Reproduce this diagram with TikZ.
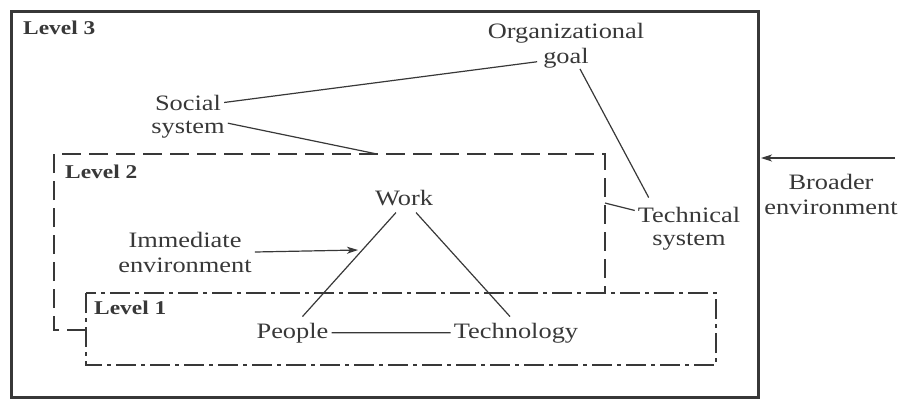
\documentclass[tikz,border=0pt]{standalone}
\usepackage{fontspec}
\setmainfont{Liberation Serif}[FakeStretch=1.2]
\usetikzlibrary{calc,arrows.meta}
\definecolor{inkc}{gray}{0.22}
\begin{document}
\begin{tikzpicture}[x=1pt,y=-1pt,
  txt/.style={inner sep=3pt, text=inkc, font=\fontsize{22}{25}\selectfont},
  lvl/.style={inner sep=0pt, text=inkc, font=\fontsize{19.5}{22}\selectfont\bfseries},
  conn/.style={draw=inkc, line width=1.2pt},
  arr/.style={conn, -{Stealth[length=11pt,width=7pt,inset=3pt]}},
  box3/.style={draw=inkc, line width=3pt},
  box2/.style={draw=inkc, line width=2pt, dash pattern=on 19pt off 8pt},
  box1/.style={draw=inkc, line width=1.5pt, dash pattern=on 20pt off 5pt on 4pt off 5pt}]
\useasboundingbox (0,0) rectangle (901,399);
% boxes
\draw[box3] (11,11) rectangle (758,397);
\draw[box2] (86,330) -- (54,330) -- (54,154) -- (605,154) -- (605,293);
\draw[box1] (86,293) rectangle (716,365);
% labels
\node[lvl, anchor=base west] (l3) at (23,34) {Level 3};
\node[lvl, anchor=base west] (l2) at (65,178) {Level 2};
\node[lvl, anchor=base west] (l1) at (94,314) {Level 1};
% texts
\node[txt, anchor=base] (org) at (566,38) {Organizational};
\node[txt, anchor=base] (goal) at (566,63) {goal};
\node[txt, anchor=base] (social) at (188,110) {Social};
\node[txt, anchor=base] (social2) at (188,133) {system};
\node[txt, align=center] (imm) at (185,252) {Immediate\\environment};
\node[txt, anchor=base] (work) at (404,205) {Work};
\node[txt, anchor=base] (people) at (292.5,338) {People};
\node[txt, anchor=base] (techno) at (516,338) {Technology};
\node[txt, anchor=base] (tech1) at (689,222) {Technical};
\node[txt, anchor=base] (tech2) at (689,245) {system};
\node[txt, align=center] (broad) at (831,194) {Broader\\environment};
% coordinates
\coordinate (l2top) at (377,154);
\coordinate (l2right) at (605,203);
\coordinate (immtip) at (358,250);
\coordinate (broadstart) at (895,158);
\coordinate (l3right) at (761,158);
% connectors
\draw[conn] (social.east) -- ($(goal.west)+(-3,4)$);
\draw[conn] ($(social2.east)+(0,-6)$) -- (l2top);
\draw[conn] ($(goal.south)+(14,-2)$) -- ($(tech1.north west)+(14,-6)$);
\draw[conn] (l2right) -- ($(tech1.west)+(0,-4)$);
\draw[conn] ($(work.south)+(-8,4)$) -- ($(people.north)+(10,-3)$);
\draw[conn] ($(work.south)+(12,4)$) -- ($(techno.north)+(-6,-3)$);
\draw[conn] (people.east) -- (techno.west);
\draw[arr] (imm.east) -- (immtip);
\draw[arr] (broadstart) -- (l3right);
\end{tikzpicture}
\end{document}
